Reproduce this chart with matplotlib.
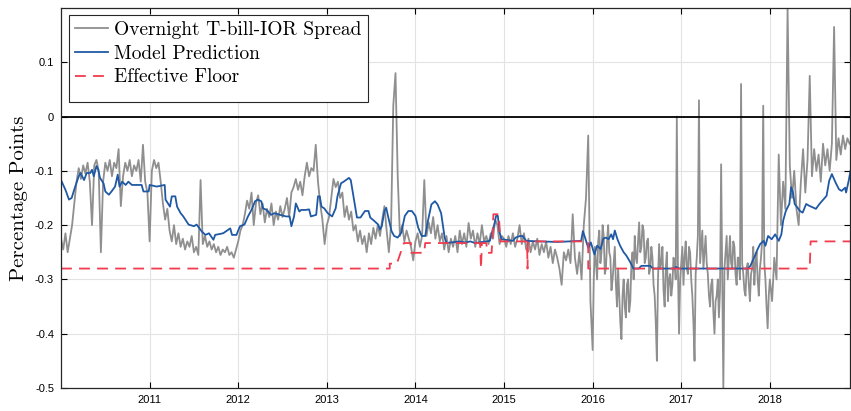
import numpy as np
import matplotlib.pyplot as plt
from matplotlib.patches import Rectangle

# overnight T-bill minus IOR spread, one list per calendar year
# (40 samples a year, 80 for the noisier 2016-2017 stretch)
spread_2010 = [-0.225, -0.245, -0.215, -0.25, -0.225, -0.20, -0.16, -0.12, -0.095, -0.115,
               -0.09, -0.105, -0.085, -0.12, -0.20, -0.09, -0.08, -0.10, -0.25, -0.12,
               -0.085, -0.10, -0.08, -0.11, -0.085, -0.095, -0.06, -0.165, -0.11, -0.085,
               -0.10, -0.08, -0.11, -0.09, -0.10, -0.08, -0.12, -0.052, -0.12, -0.14]
spread_2011 = [-0.23, -0.10, -0.08, -0.095, -0.085, -0.12, -0.16, -0.19, -0.17, -0.21,
               -0.23, -0.20, -0.235, -0.215, -0.24, -0.225, -0.245, -0.23, -0.24, -0.22,
               -0.25, -0.24, -0.255, -0.117, -0.235, -0.22, -0.24, -0.23, -0.245, -0.235,
               -0.25, -0.24, -0.255, -0.245, -0.25, -0.24, -0.255, -0.25, -0.26, -0.245]
spread_2012 = [-0.23, -0.21, -0.20, -0.18, -0.155, -0.17, -0.14, -0.20, -0.16, -0.145,
               -0.18, -0.16, -0.195, -0.17, -0.185, -0.16, -0.20, -0.175, -0.19, -0.165,
               -0.185, -0.17, -0.15, -0.185, -0.14, -0.13, -0.115, -0.135, -0.12, -0.145,
               -0.11, -0.085, -0.11, -0.095, -0.10, -0.052, -0.12, -0.16, -0.19, -0.235]
spread_2013 = [-0.20, -0.185, -0.15, -0.115, -0.13, -0.12, -0.15, -0.14, -0.185, -0.165,
               -0.19, -0.175, -0.21, -0.20, -0.23, -0.21, -0.235, -0.22, -0.25, -0.215,
               -0.235, -0.205, -0.225, -0.20, -0.22, -0.19, -0.165, -0.21, -0.25, -0.20,
               0.02, 0.08, -0.11, -0.22, -0.20, -0.23, -0.21, -0.225, -0.24, -0.265]
spread_2014 = [-0.23, -0.215, -0.24, -0.22, -0.117, -0.22, -0.195, -0.215, -0.185, -0.225,
               -0.20, -0.23, -0.215, -0.245, -0.22, -0.25, -0.225, -0.24, -0.22, -0.25,
               -0.21, -0.235, -0.215, -0.24, -0.196, -0.225, -0.21, -0.24, -0.215, -0.235,
               -0.20, -0.23, -0.22, -0.235, -0.215, -0.225, -0.19, -0.20, -0.235, -0.22]
spread_2015 = [-0.225, -0.24, -0.22, -0.235, -0.215, -0.24, -0.225, -0.20, -0.235, -0.215,
               -0.245, -0.225, -0.25, -0.23, -0.245, -0.225, -0.255, -0.235, -0.25, -0.23,
               -0.26, -0.24, -0.27, -0.245, -0.26, -0.28, -0.31, -0.25, -0.265, -0.245,
               -0.27, -0.18, -0.26, -0.29, -0.25, -0.30, -0.20, -0.15, -0.035, -0.34]
spread_2016 = [-0.43, -0.30, -0.24, -0.27, -0.30, -0.23, -0.21, -0.27, -0.25, -0.20,
               -0.22, -0.29, -0.28, -0.23, -0.20, -0.25, -0.26, -0.32, -0.30, -0.27,
               -0.24, -0.31, -0.35, -0.28, -0.33, -0.38, -0.41, -0.33, -0.30, -0.35,
               -0.37, -0.31, -0.30, -0.36, -0.34, -0.27, -0.25, -0.30, -0.22, -0.26,
               -0.27, -0.23, -0.195, -0.25, -0.24, -0.20, -0.21, -0.27, -0.26, -0.23,
               -0.225, -0.29, -0.28, -0.24, -0.26, -0.31, -0.33, -0.38, -0.45, -0.30,
               -0.235, -0.28, -0.27, -0.24, -0.32, -0.35, -0.28, -0.25, -0.34, -0.30,
               -0.29, -0.33, -0.31, -0.26, -0.27, -0.30, 0.0, -0.28, -0.40, -0.30]
spread_2017 = [-0.27, -0.24, -0.31, -0.26, -0.23, -0.28, -0.29, -0.24, -0.25, -0.30,
               -0.33, -0.38, -0.45, -0.29, -0.26, -0.22, 0.03, -0.27, -0.24, -0.21,
               -0.28, -0.25, -0.22, -0.27, -0.29, -0.33, -0.35, -0.31, -0.30, -0.36,
               -0.40, -0.34, -0.33, -0.30, -0.37, -0.32, -0.088, -0.30, -0.50, -0.28,
               -0.25, -0.22, -0.30, -0.26, -0.22, -0.27, -0.28, -0.23, -0.24, -0.29,
               -0.31, -0.26, -0.26, -0.30, 0.06, -0.27, -0.29, -0.32, -0.33, -0.28,
               -0.27, -0.31, -0.34, -0.29, -0.28, -0.24, -0.31, -0.27, -0.25, -0.30,
               -0.33, -0.28, -0.26, -0.23, 0.02, -0.27, -0.30, -0.35, -0.39, -0.33]
spread_2018 = [-0.30, -0.34, -0.26, -0.30, -0.07, -0.20, -0.12, -0.17, 0.20, -0.09,
               -0.15, -0.10, -0.17, -0.20, -0.12, -0.06, -0.14, -0.08, 0.075, -0.11,
               -0.06, -0.10, -0.07, -0.12, -0.05, -0.09, -0.06, -0.10, -0.05, 0.165,
               -0.08, -0.04, -0.07, -0.035, -0.06, -0.04, -0.05]

model_t = [2010.00, 2010.05, 2010.09, 2010.12, 2010.16, 2010.20, 2010.22, 2010.26, 2010.29, 2010.33,
           2010.35, 2010.37, 2010.40, 2010.42, 2010.44, 2010.48, 2010.50, 2010.54, 2010.57, 2010.61,
           2010.64, 2010.66, 2010.69, 2010.73, 2010.76, 2010.80, 2010.91, 2010.93, 2010.99, 2011.00,
           2011.08, 2011.14, 2011.17, 2011.18, 2011.23, 2011.25, 2011.29, 2011.31, 2011.35, 2011.38,
           2011.44, 2011.50, 2011.53, 2011.59, 2011.63, 2011.67, 2011.72, 2011.74, 2011.83, 2011.91,
           2011.93, 2011.98, 2012.02, 2012.07, 2012.11, 2012.15, 2012.19, 2012.22, 2012.26, 2012.28,
           2012.32, 2012.37, 2012.41, 2012.47, 2012.54, 2012.58, 2012.60, 2012.63, 2012.65, 2012.69,
           2012.71, 2012.76, 2012.80, 2012.82, 2012.88, 2012.90, 2012.92, 2012.94, 2012.97, 2013.01,
           2013.06, 2013.10, 2013.12, 2013.16, 2013.19, 2013.25, 2013.27, 2013.31, 2013.34, 2013.38,
           2013.43, 2013.47, 2013.49, 2013.54, 2013.58, 2013.60, 2013.62, 2013.65, 2013.67, 2013.69,
           2013.73, 2013.76, 2013.80, 2013.84, 2013.88, 2013.92, 2013.96, 2014.00, 2014.03, 2014.07,
           2014.11, 2014.14, 2014.18, 2014.22, 2014.25, 2014.29, 2014.33, 2014.35, 2014.50, 2014.56,
           2014.62, 2014.67, 2014.84, 2014.87, 2014.89, 2014.91, 2014.93, 2014.95, 2014.97, 2015.10,
           2015.13, 2015.18, 2015.21, 2015.25, 2015.40, 2015.60, 2015.87, 2015.89, 2015.92, 2015.95,
           2015.98, 2016.02, 2016.05, 2016.09, 2016.12, 2016.15, 2016.18, 2016.21, 2016.23, 2016.25,
           2016.28, 2016.31, 2016.35, 2016.38, 2016.42, 2016.46, 2016.52, 2016.55, 2016.65, 2016.68,
           2016.92, 2016.94, 2016.98, 2017.75, 2017.78, 2017.83, 2017.86, 2017.89, 2017.93, 2017.95,
           2017.98, 2018.02, 2018.06, 2018.10, 2018.13, 2018.15, 2018.18, 2018.22, 2018.24, 2018.26,
           2018.28, 2018.34, 2018.37, 2018.41, 2018.44, 2018.52, 2018.56, 2018.64, 2018.67, 2018.70,
           2018.74, 2018.78, 2018.81, 2018.85, 2018.86, 2018.89, 2018.91]
model_v = [-0.117, -0.135, -0.153, -0.150, -0.129, -0.110, -0.104, -0.117, -0.104, -0.104,
           -0.098, -0.110, -0.091, -0.098, -0.113, -0.123, -0.138, -0.144, -0.138, -0.129,
           -0.107, -0.129, -0.120, -0.126, -0.120, -0.126, -0.126, -0.138, -0.138, -0.126,
           -0.129, -0.127, -0.126, -0.153, -0.166, -0.147, -0.147, -0.166, -0.178, -0.184,
           -0.199, -0.202, -0.199, -0.212, -0.218, -0.215, -0.227, -0.218, -0.215, -0.206,
           -0.218, -0.218, -0.202, -0.199, -0.184, -0.172, -0.156, -0.153, -0.156, -0.169,
           -0.172, -0.181, -0.178, -0.181, -0.184, -0.184, -0.202, -0.184, -0.160, -0.175,
           -0.172, -0.172, -0.171, -0.184, -0.181, -0.147, -0.147, -0.166, -0.169, -0.178,
           -0.184, -0.169, -0.147, -0.123, -0.120, -0.113, -0.117, -0.156, -0.186, -0.186,
           -0.174, -0.174, -0.186, -0.193, -0.199, -0.208, -0.202, -0.174, -0.168, -0.183,
           -0.211, -0.220, -0.223, -0.214, -0.183, -0.174, -0.174, -0.183, -0.204, -0.220,
           -0.220, -0.193, -0.162, -0.156, -0.162, -0.178, -0.223, -0.233, -0.230, -0.232,
           -0.230, -0.233, -0.229, -0.210, -0.199, -0.183, -0.183, -0.213, -0.226, -0.229,
           -0.223, -0.220, -0.220, -0.229, -0.230, -0.231, -0.229, -0.211, -0.226, -0.242,
           -0.232, -0.254, -0.238, -0.244, -0.225, -0.223, -0.226, -0.217, -0.226, -0.210,
           -0.226, -0.238, -0.250, -0.256, -0.267, -0.280, -0.280, -0.275, -0.275, -0.280,
           -0.280, -0.277, -0.280, -0.280, -0.275, -0.257, -0.245, -0.235, -0.229, -0.238,
           -0.220, -0.226, -0.217, -0.229, -0.217, -0.192, -0.174, -0.161, -0.130, -0.139,
           -0.161, -0.174, -0.177, -0.161, -0.164, -0.170, -0.161, -0.146, -0.118, -0.106,
           -0.121, -0.134, -0.137, -0.131, -0.140, -0.118, -0.100]

floor_t = [2010.00, 2013.71, 2013.71, 2013.79, 2013.87, 2013.95, 2013.95, 2014.10, 2014.11, 2014.73,
           2014.74, 2014.75, 2014.80, 2014.81, 2014.86, 2014.88, 2014.94, 2014.96, 2015.26, 2015.265,
           2015.27, 2015.95, 2015.95, 2018.45, 2018.46, 2018.92]
floor_v = [-0.28, -0.28, -0.271, -0.271, -0.233, -0.233, -0.251, -0.251, -0.233, -0.233,
           -0.28, -0.233, -0.233, -0.251, -0.251, -0.18, -0.18, -0.23, -0.23, -0.28,
           -0.23, -0.23, -0.28, -0.28, -0.23, -0.23]

years = [2011, 2012, 2013, 2014, 2015, 2016, 2017, 2018]
yticks = [-0.5, -0.4, -0.3, -0.2, -0.1, 0, 0.1]
ytick_labels = ["-0.5", "-0.4", "-0.3", "-0.2", "-0.1", "0", "0.1"]

spread_by_year = [spread_2010, spread_2011, spread_2012, spread_2013, spread_2014,
                  spread_2015, spread_2016, spread_2017, spread_2018]
spread_t, spread_v = [], []
for yr, vals in zip(range(2010, 2019), spread_by_year):
    per_year = 80 if len(vals) == 80 else 40
    spread_t += list(yr + np.arange(len(vals)) / per_year)
    spread_v += vals

fig = plt.figure(figsize=(8.51, 4.11), dpi=100)
ax = fig.add_axes([0.0717, 0.056, 0.9277, 0.9246])

ax.plot(spread_t, spread_v, color="#8f8f8f", lw=1.3, label="Overnight T-bill-IOR Spread")
ax.plot(model_t, model_v, color="#1f59a5", lw=1.3, label="Model Prediction")
ax.plot(floor_t, floor_v, color="#f23b4c", lw=1.3, dashes=(6, 4), label="Effective Floor")
ax.axhline(0, color="black", lw=1.3)

ax.set_xlim(2010.0, 2018.91)
ax.set_ylim(-0.5, 0.2)
ax.set_xticks(years)
ax.set_xticklabels([str(y) for y in years], fontfamily="Liberation Sans", fontsize=8)
ax.set_yticks(yticks)
ax.set_yticklabels(ytick_labels, fontfamily="Liberation Sans", fontsize=8)
ax.tick_params(direction="in", length=4, width=0.8, top=True, right=True, pad=5)
ax.grid(True, color="#e3e3e3", lw=0.8)
ax.set_axisbelow(True)
for s in ax.spines.values():
    s.set_linewidth(0.9)
    s.set_color("#262626")

ax.set_ylabel("Percentage Points", fontfamily="cmr10", fontsize=15, labelpad=5)

# legend box is drawn separately: taller at the bottom than the entries need
ax.add_patch(Rectangle((0.0101, 0.7526), 0.3788, 0.229, transform=ax.transAxes,
                       facecolor="white", edgecolor="#262626", lw=0.8, zorder=4.9))
leg = ax.legend(loc="upper left", prop={"family": "cmr10", "size": 14}, frameon=False,
                bbox_to_anchor=(0.0101, 0.9816), borderaxespad=0,
                handlelength=1.7, handletextpad=0.3, labelspacing=0.3, borderpad=0.3)

fig.savefig("out.png", dpi=100)
